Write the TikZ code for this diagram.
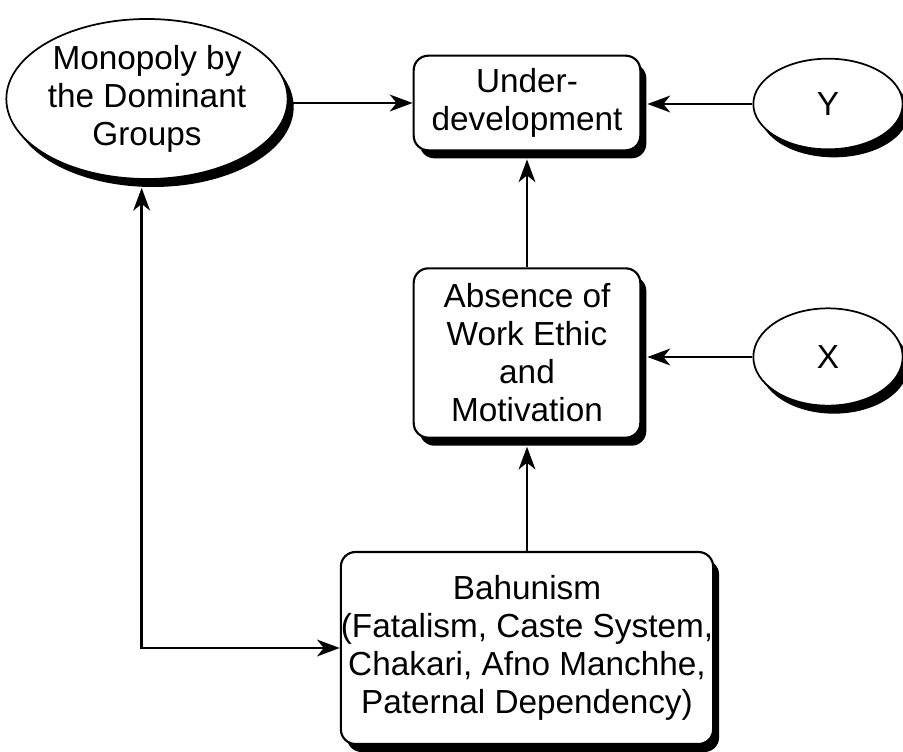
\documentclass[tikz,border=0pt]{standalone}
\usepackage{fontspec}
\setmainfont{Liberation Sans}
\usetikzlibrary{shapes.geometric,shadows,arrows.meta}
\tikzset{
  shad/.style={drop shadow={shadow xshift=4.5pt, shadow yshift=-6pt, fill=black, opacity=1}},
  rbox/.style={draw, line width=1.6pt, fill=white, rounded corners=11pt, align=center, inner sep=0pt, shad},
  oval/.style={ellipse, draw, line width=1.3pt, fill=white, align=center, inner sep=0pt, shad},
  tip/.style={Stealth[length=17pt,width=12.5pt,inset=5pt]},
  arr/.style={line width=2.2pt, -{Stealth[length=17pt,width=12.5pt,inset=5pt]}},
  darr/.style={line width=2.2pt, {Stealth[length=17pt,width=12.5pt,inset=5pt]}-{Stealth[length=17pt,width=12.5pt,inset=5pt]}},
  every node/.style={font=\fontsize{25pt}{28.5pt}\selectfont}
}
\begin{document}
\begin{tikzpicture}[x=0.75pt,y=-0.75pt]
\useasboundingbox (0,0) rectangle (903,752);
\node[oval, minimum width=211pt, minimum height=120pt] (mono) at (147,99) {Monopoly by\\the Dominant\\Groups};
\node[rbox, minimum width=170pt, minimum height=71pt] (under) at (527,103) {Under-\\development};
\node[oval, minimum width=112pt, minimum height=68pt] (y) at (828,104) {Y};
\node[rbox, minimum width=170pt, minimum height=127pt] (abs) at (527,353) {Absence of\\Work Ethic\\and\\Motivation};
\node[oval, minimum width=112pt, minimum height=73pt] (x) at (828,357) {X};
\node[rbox, minimum width=277pt, minimum height=144pt] (bah) at (527,648) {Bahunism\\(Fatalism, Caste System,\\Chakari, Afno Manchhe,\\Paternal Dependency)};
\draw[arr] (under.west -| mono.east) -- (under.west);
\draw[arr] (y.west) -- ([xshift=4.5pt]y.west -| under.east);
\draw[arr] (abs.north) -- ([yshift=-6pt]under.south);
\draw[arr] (x.west) -- ([xshift=4.5pt]x.west -| abs.east);
\draw[arr] (bah.north) -- ([yshift=-6pt]abs.south);
\draw[darr] ([xshift=-4pt,yshift=-6pt]mono.south) |- (bah.west);
\end{tikzpicture}
\end{document}
